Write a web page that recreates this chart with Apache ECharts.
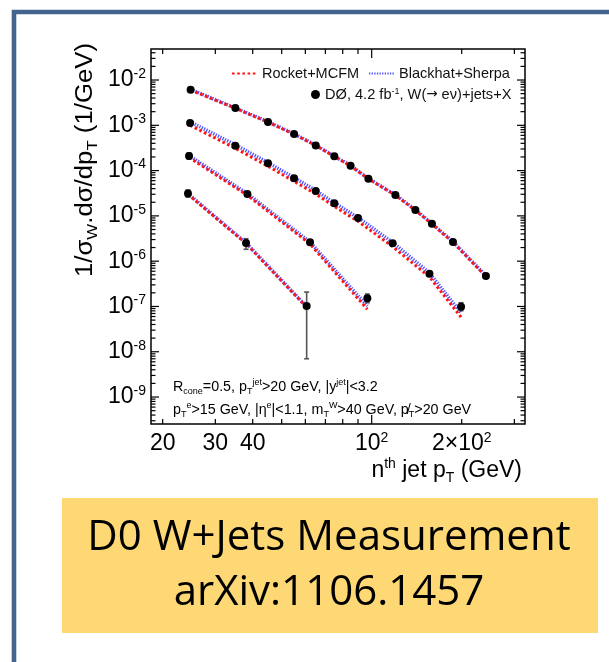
<!DOCTYPE html>
<html>
<head>
<meta charset="utf-8">
<title>D0 W+jets nth jet pT</title>
<script src="https://cdn.jsdelivr.net/npm/echarts@6.0.0/dist/echarts.min.js"></script>
<style>
    html, body { margin: 0; padding: 0; background: #fff; }
    #container { width: 609px; height: 662px; }
</style>
</head>
<body>
<div id="container"></div>
<script type="text/javascript">
// 数据：点 (x = jet pT GeV, y = 1/sigma dsigma/dpT)
var jet1X = [24.8, 35, 45, 55, 65, 75, 85, 97.5, 120, 140, 159, 187, 241];
var jet1Y = [6.1e-3, 2.4e-3, 1.18e-3, 6.4e-4, 3.6e-4, 2.07e-4, 1.28e-4, 6.6e-5, 2.9e-5, 1.35e-5, 6.7e-6, 2.65e-6, 4.7e-7];
var jet2X = [24.7, 35, 45, 55, 65, 75, 90, 117.5, 156, 199];
var jet2Y = [1.12e-3, 3.54e-4, 1.45e-4, 6.75e-5, 3.54e-5, 1.9e-5, 8.97e-6, 2.48e-6, 5.28e-7, 9.9e-8];
var jet3X = [24.5, 38.4, 62.2, 96.7];
var jet3Y = [2.1e-4, 3.04e-5, 2.61e-6, 1.51e-7];
var jet4X = [24.3, 38, 60.6];
var jet4Y = [3.12e-5, 2.52e-6, 1.02e-7];

// 理论曲线 Rocket+MCFM / Blackhat+Sherpa (same x as data)
var mcfm1 = [6.0e-3, 2.38e-3, 1.17e-3, 6.35e-4, 3.57e-4, 2.05e-4, 1.27e-4, 6.55e-5, 2.86e-5, 1.33e-5, 6.6e-6, 2.6e-6, 4.6e-7];
var bhs1  = [6.2e-3, 2.43e-3, 1.2e-3, 6.5e-4, 3.65e-4, 2.08e-4, 1.3e-4, 6.7e-5, 2.92e-5, 1.37e-5, 6.8e-6, 2.7e-6, 4.8e-7];
var mcfm2 = [1.0e-3, 3.1e-4, 1.25e-4, 5.8e-5, 3.05e-5, 1.62e-5, 7.6e-6, 2.1e-6, 4.5e-7, 5.8e-8];
var bhs2  = [1.2e-3, 3.7e-4, 1.5e-4, 7.0e-5, 3.65e-5, 1.95e-5, 9.2e-6, 2.6e-6, 5.5e-7, 7.2e-8];
var mcfm3 = [1.95e-4, 2.85e-5, 2.4e-6, 8.7e-8];
var bhs3  = [2.15e-4, 3.1e-5, 2.65e-6, 1.02e-7];
var mcfm4 = [3.0e-5, 2.45e-6, 9.6e-8];
var bhs4  = [3.1e-5, 2.55e-6, 1.0e-7];

// 误差棒 (only the visible ones)
var errX  = [24.3, 38, 60.6, 24.5, 96.7, 199];
var errLo = [2.6e-5, 1.83e-6, 7.0e-9, 1.8e-4, 1.21e-7, 8.05e-8];
var errHi = [3.75e-5, 3.13e-6, 2.08e-7, 2.45e-4, 1.88e-7, 1.21e-7];

// 坐标轴
var X_MIN = 18.28, X_MAX = 325.6;
var Y_MIN = 2.54e-10, Y_MAX = 0.0484;
var xLabelVals = [20, 30, 40, 100, 200];
var xLabelBase = ['20', '30', '40', '10', '2\u00d710'];
var xLabelExp  = ['', '', '', '2', '2'];
var xMajorTicks = [100];
var xMinorTicks = [20, 30, 40, 50, 60, 70, 80, 90, 200, 300];
var yMajorTicks = [1e-9, 1e-8, 1e-7, 1e-6, 1e-5, 1e-4, 1e-3, 1e-2];

var FONT = '"Liberation Sans", Arial, sans-serif';
var RED = '#ff1414';
var BLUE = 'rgba(40,40,255,0.8)';

function pairs(xs, ys) {
    return xs.map(function (x, i) { return [x, ys[i]]; });
}

// tick marks: [x, y, dx, dy]
var tickData = [];
function addXTick(v, len) {
    tickData.push([v, Y_MIN, 0, -len]);
    tickData.push([v, Y_MAX, 0, len]);
}
function addYTick(v, len) {
    tickData.push([X_MIN, v, len, 0]);
    tickData.push([X_MAX, v, -len, 0]);
}
xMajorTicks.forEach(function (v) { addXTick(v, 9); });
xMinorTicks.forEach(function (v) { addXTick(v, 5); });
yMajorTicks.forEach(function (v) { addYTick(v, 8); });
for (var e = -10; e <= -2; e++) {
    for (var m = 2; m <= 9; m++) {
        var v = m * Math.pow(10, e);
        if (v > Y_MIN && v < Y_MAX) addYTick(v, 4.5);
    }
}

var groups = [
    {x: jet1X, y: jet1Y, mcfm: mcfm1, bhs: bhs1},
    {x: jet2X, y: jet2Y, mcfm: mcfm2, bhs: bhs2},
    {x: jet3X, y: jet3Y, mcfm: mcfm3, bhs: bhs3},
    {x: jet4X, y: jet4Y, mcfm: mcfm4, bhs: bhs4}
];
var DATA_NAME = 'D\u00d8, 4.2 fb-1, W(\u2192 e\u03bd)+jets+X';

var series = [];
groups.forEach(function (g) {
    series.push({
        name: 'Blackhat+Sherpa', type: 'line', data: pairs(g.x, g.bhs),
        symbol: 'none', z: 2, silent: true,
        itemStyle: {color: BLUE},
        lineStyle: {color: BLUE, width: 3.5, type: [1.3, 1.3]}
    });
});
groups.forEach(function (g) {
    series.push({
        name: 'Rocket+MCFM', type: 'line', data: pairs(g.x, g.mcfm),
        symbol: 'none', z: 3, silent: true,
        itemStyle: {color: RED},
        lineStyle: {color: RED, width: 3, type: [2.6, 2.6]}
    });
});
groups.forEach(function (g) {
    series.push({
        name: DATA_NAME, type: 'scatter', data: pairs(g.x, g.y),
        symbol: 'circle', symbolSize: 8, z: 5,
        itemStyle: {color: '#000', opacity: 1}
    });
});

// 误差棒
series.push({
    type: 'custom', z: 4, clip: false, silent: true,
    data: errX.map(function (x, i) { return [x, errLo[i], errHi[i]]; }),
    encode: {x: 0, y: [1, 2]},
    renderItem: function (params, api) {
        var x = api.value(0);
        var lo = api.coord([x, api.value(1)]);
        var hi = api.coord([x, api.value(2)]);
        var st = {stroke: '#555', lineWidth: 1.6};
        return {type: 'group', children: [
            {type: 'line', shape: {x1: lo[0], y1: lo[1], x2: hi[0], y2: hi[1]}, style: st},
            {type: 'line', shape: {x1: lo[0] - 2.5, y1: lo[1], x2: lo[0] + 2.5, y2: lo[1]}, style: st},
            {type: 'line', shape: {x1: hi[0] - 2.5, y1: hi[1], x2: hi[0] + 2.5, y2: hi[1]}, style: st}
        ]};
    }
});

// 刻度
series.push({
    type: 'custom', z: 6, clip: false, silent: true,
    data: tickData,
    encode: {x: 0, y: 1},
    renderItem: function (params, api) {
        var p = api.coord([api.value(0), api.value(1)]);
        return {type: 'line',
            shape: {x1: p[0], y1: p[1], x2: p[0] + api.value(2), y2: p[1] + api.value(3)},
            style: {stroke: '#000', lineWidth: 1.2}};
    }
});

// x 轴标签
series.push({
    type: 'custom', z: 6, clip: false, silent: true,
    data: xLabelVals.map(function (v) { return [v, Y_MIN]; }),
    encode: {x: 0, y: 1},
    renderItem: function (params, api) {
        var p = api.coord([api.value(0), api.value(1)]);
        var i = params.dataIndex;
        var txt = '{m|' + xLabelBase[i] + '}' + (xLabelExp[i] ? '{e|' + xLabelExp[i] + '}' : '');
        return {type: 'text', x: p[0], y: p[1] + 7,
            style: {text: txt, align: 'center', verticalAlign: 'top',
                textAlign: 'center', textVerticalAlign: 'top', fill: '#000',
                rich: {
                    m: {fontSize: 23, fontFamily: FONT, lineHeight: 26, color: '#000'},
                    e: {fontSize: 14, fontFamily: FONT, lineHeight: 14, verticalAlign: 'top', color: '#000'}
                }}};
    }
});

var option = {
    animation: false,
    backgroundColor: '#fff',
    grid: {
        left: 151, top: 49, right: 84, bottom: 238,
        show: true, borderColor: '#000', borderWidth: 1.5, backgroundColor: 'transparent',
        outerBoundsMode: 'none'
    },
    legend: [{
        data: ['Rocket+MCFM', 'Blackhat+Sherpa'],
        left: 226, top: 61, itemWidth: 25, itemHeight: 6, itemGap: 9,
        itemStyle: {opacity: 0},
        textStyle: {fontSize: 14.5, fontFamily: FONT, color: '#111'}
    }, {
        data: [DATA_NAME],
        left: 306, top: 82, itemWidth: 9, itemHeight: 9, icon: 'circle',
        itemStyle: {color: '#000', opacity: 1},
        textStyle: {fontSize: 14.6, fontFamily: FONT, color: '#111',
            rich: {
                a: {fontSize: 14.6, fontFamily: FONT, color: '#111'},
                r: {fontSize: 13.5, fontFamily: '"DejaVu Sans", sans-serif', color: '#111'},
                s: {fontSize: 9, fontFamily: FONT, color: '#111', verticalAlign: 'top', lineHeight: 9}
            }},
        formatter: function () {
            return '{a|D\u00d8, 4.2 fb}{s|-1}{a|, W(}{r|\u2192}{a| e\u03bd)+jets+X}';
        }
    }],
    xAxis: {
        type: 'log', logBase: 10, min: X_MIN, max: X_MAX,
        axisLine: {show: false}, axisTick: {show: false},
        axisLabel: {show: false}, splitLine: {show: false}
    },
    yAxis: {
        type: 'log', logBase: 10, min: Y_MIN, max: Y_MAX, splitNumber: 10,
        axisLine: {show: false}, axisTick: {show: false}, splitLine: {show: false},
        axisLabel: {
            showMinLabel: false, showMaxLabel: false, margin: 5,
            formatter: function (v) {
                return '{m|10}{e|' + Math.round(Math.log10(v)) + '}';
            },
            rich: {
                m: {fontSize: 23, fontFamily: FONT, lineHeight: 26, color: '#000'},
                e: {fontSize: 14, fontFamily: FONT, lineHeight: 14, verticalAlign: 'top', color: '#000'}
            }
        }
    },
    graphic: [
        // 外框
        {type: 'rect', shape: {x: 14, y: 12, width: 700, height: 700},
            style: {fill: 'none', stroke: '#44648e', lineWidth: 4.6}, z: 0},
        // 黄色说明框
        {type: 'rect', shape: {x: 62, y: 498, width: 536, height: 135},
            style: {fill: '#fdd874'}, z: 0},
        {type: 'text', x: 329, y: 538, z: 1,
            style: {text: 'D0 W+Jets Measurement', fill: '#000',
                font: '42px "Open Sans", sans-serif',
                align: 'center', verticalAlign: 'middle', textAlign: 'center', textVerticalAlign: 'middle'}},
        {type: 'text', x: 329, y: 593, z: 1,
            style: {text: 'arXiv:1106.1457', fill: '#000',
                font: '42px "Open Sans", sans-serif',
                align: 'center', verticalAlign: 'middle', textAlign: 'center', textVerticalAlign: 'middle'}},
        // y 轴标题
        {type: 'text', x: 86, y: 160, rotation: Math.PI / 2, scaleX: 1.12, z: 1,
            style: {text: '{m|1/\u03c3}{s|W}{m|.d\u03c3/dp}{s|T}{m| (1/GeV)}',
                align: 'center', verticalAlign: 'middle', textAlign: 'center', textVerticalAlign: 'middle',
                rich: {
                    m: {fontSize: 23, fontFamily: FONT, lineHeight: 28, color: '#000'},
                    s: {fontSize: 15, fontFamily: FONT, lineHeight: 15, verticalAlign: 'bottom', color: '#000'}
                }}},
        // x 轴标题
        {type: 'text', x: 522, y: 471, z: 1,
            style: {text: '{m|n}{u|th}{m| jet p}{s|T}{m| (GeV)}',
                align: 'right', verticalAlign: 'middle', textAlign: 'right', textVerticalAlign: 'middle',
                rich: {
                    m: {fontSize: 23, fontFamily: FONT, lineHeight: 28, color: '#000'},
                    u: {fontSize: 14, fontFamily: FONT, lineHeight: 14, verticalAlign: 'top', color: '#000'},
                    s: {fontSize: 14, fontFamily: FONT, lineHeight: 14, verticalAlign: 'bottom', color: '#000'}
                }}},
        // 图内说明
        {type: 'text', x: 173, y: 387, z: 7,
            style: {text: '{m|R}{s|cone}{m|=0.5, p}{s|T}{u|jet}{m|>20 GeV, |y}{u|jet}{m||<3.2}',
                align: 'left', verticalAlign: 'middle', textAlign: 'left', textVerticalAlign: 'middle',
                rich: {
                    m: {fontSize: 14.3, fontFamily: FONT, lineHeight: 18, color: '#222'},
                    u: {fontSize: 9, fontFamily: FONT, lineHeight: 9, verticalAlign: 'top', color: '#222'},
                    s: {fontSize: 9, fontFamily: FONT, lineHeight: 9, verticalAlign: 'bottom', color: '#222'}
                }}},
        {type: 'text', x: 173, y: 410, z: 7,
            style: {text: '{m|p}{s|T}{u|e}{m|>15 GeV, |\u03b7}{u|e}{m||<1.1, m}{s|T}{u|W}{m|>40 GeV, p\u0338}{s|T}{m|>20 GeV}',
                align: 'left', verticalAlign: 'middle', textAlign: 'left', textVerticalAlign: 'middle',
                rich: {
                    m: {fontSize: 14.3, fontFamily: FONT, lineHeight: 18, color: '#222'},
                    u: {fontSize: 9, fontFamily: FONT, lineHeight: 9, verticalAlign: 'top', color: '#222'},
                    s: {fontSize: 9, fontFamily: FONT, lineHeight: 9, verticalAlign: 'bottom', color: '#222'}
                }}}
    ],
    series: series
};

var myChart = echarts.init(document.getElementById('container'));
myChart.setOption(option);
</script>
</body>
</html>
